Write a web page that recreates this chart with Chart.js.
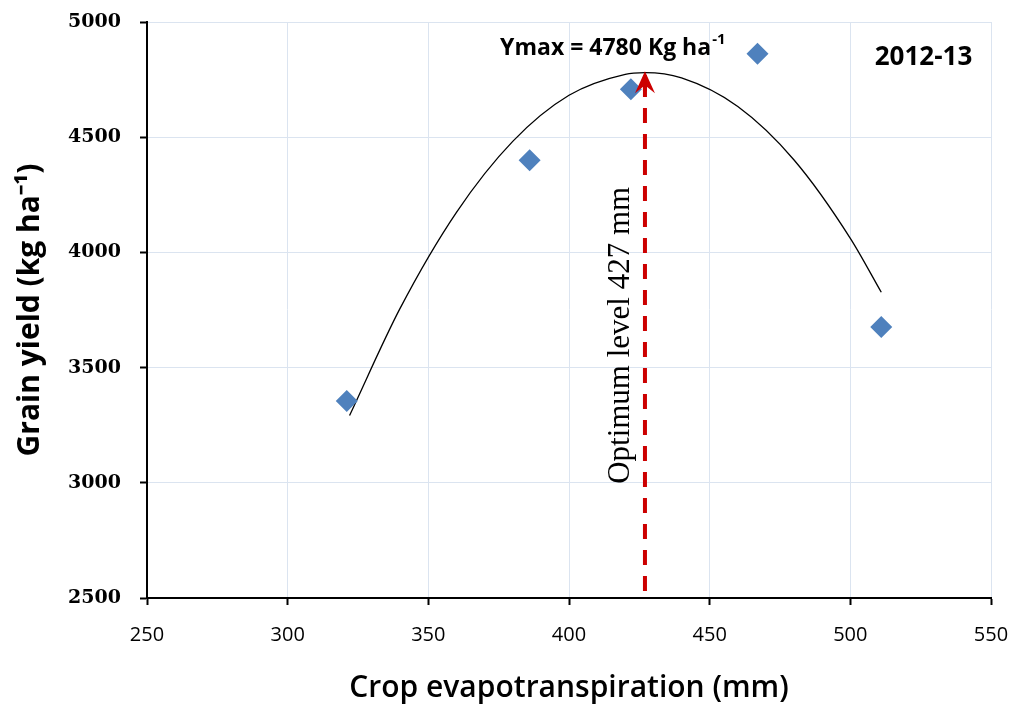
<!DOCTYPE html>
<html>
<head>
<meta charset="utf-8">
<script src="https://cdn.jsdelivr.net/npm/chart.js@4.4.1/dist/chart.umd.min.js"></script>
<style>
  html, body { margin: 0; padding: 0; background: #fff; }
  #wrap { width: 1021px; height: 706px; position: relative; }
</style>
</head>
<body>
<div id="wrap"><canvas id="chart"></canvas></div>
<script>
// observed points (crop ET mm, grain yield kg/ha)
const etValues = [321, 386, 422, 467, 511];
const yieldValues = [3355, 4400, 4708, 4862, 3676];

// fitted quadratic trend
const trendEt = [322, 340, 360, 380, 400, 420, 427, 440, 460, 480, 500, 511];
const trendYield = [3292, 3758, 4174, 4482, 4682, 4773, 4780, 4757, 4633, 4401, 4061, 3827];

// optimum arrow
const optimumEt = [427, 427];
const optimumYield = [2530, 4760];

const xTicks = [250, 300, 350, 400, 450, 500, 550];
const yTicks = [2500, 3000, 3500, 4000, 4500, 5000];

const GRID = '#dbe4f0';
const BLUE = '#4f81bd';
const RED = '#cc0000';

const annotations = {
  id: 'annotations',
  afterDatasetsDraw(chart) {
    const { ctx, scales: { x, y } } = chart;
    ctx.save();

    // arrowhead on top of the dashed line
    const meta = chart.getDatasetMeta(2);
    const tip = meta.data[meta.data.length - 1];
    ctx.strokeStyle = RED;
    ctx.fillStyle = RED;
    ctx.lineWidth = 4;
    ctx.setLineDash([]);
    ctx.beginPath();
    ctx.moveTo(tip.x, tip.y + 14);
    ctx.lineTo(tip.x, tip.y - 2);
    ctx.stroke();
    ctx.beginPath();
    ctx.moveTo(tip.x, tip.y - 6);
    ctx.lineTo(tip.x + 10, tip.y + 16);
    ctx.lineTo(tip.x, tip.y + 8);
    ctx.lineTo(tip.x - 10, tip.y + 16);
    ctx.closePath();
    ctx.fill();

    ctx.fillStyle = '#000';
    ctx.textBaseline = 'middle';

    // Ymax label
    ctx.font = 'bold 23px "Open Sans", "Liberation Sans", sans-serif';
    ctx.textAlign = 'left';
    const ymaxX = x.getPixelForValue(375.5);
    const ymaxY = y.getPixelForValue(4885);
    const main = 'Ymax = 4780 Kg ha';
    const w = ctx.measureText(main).width;
    ctx.fillText(main, ymaxX, ymaxY);
    ctx.font = 'bold 15px "Open Sans", "Liberation Sans", sans-serif';
    ctx.fillText('-1', ymaxX + w + 1, ymaxY - 9);

    ctx.font = 'bold 26px "Open Sans", "Liberation Sans", sans-serif';
    ctx.textAlign = 'center';
    ctx.fillText('2012-13', x.getPixelForValue(526), y.getPixelForValue(4845));

    ctx.font = '31px "Liberation Serif", "DejaVu Serif", serif';
    ctx.translate(x.getPixelForValue(418.5), y.getPixelForValue(3640));
    ctx.rotate(-Math.PI / 2);
    ctx.fillText('Optimum level 427 mm', 0, 0);

    ctx.restore();
  }
};

new Chart(document.getElementById('chart'), {
  type: 'scatter',
  data: {
    datasets: [
      {
        label: 'Observed',
        data: etValues.map((v, i) => ({ x: v, y: yieldValues[i] })),
        pointStyle: 'rectRot',
        pointRadius: 11,
        pointHoverRadius: 11,
        backgroundColor: BLUE,
        borderColor: BLUE,
        borderWidth: 0,
        order: 1
      },
      {
        label: 'Trend',
        data: trendEt.map((v, i) => ({ x: v, y: trendYield[i] })),
        showLine: true,
        pointRadius: 0,
        borderColor: '#000',
        borderWidth: 1.3,
        cubicInterpolationMode: 'monotone',
        fill: false,
        order: 2
      },
      {
        label: 'Optimum',
        data: optimumEt.map((v, i) => ({ x: v, y: optimumYield[i] })),
        showLine: true,
        pointRadius: 0,
        borderColor: RED,
        borderWidth: 4,
        borderDash: [15, 11],
        fill: false,
        order: 0
      }
    ]
  },
  options: {
    responsive: true,
    maintainAspectRatio: false,
    animation: false,
    layout: { padding: { top: 22, right: 30, left: 8, bottom: 0 } },
    plugins: { legend: { display: false }, tooltip: { enabled: false } },
    scales: {
      x: {
        type: 'linear',
        min: 250,
        max: 550,
        afterBuildTicks: s => { s.ticks = xTicks.map(v => ({ value: v })); },
        afterFit: s => { s.height = 108; s.paddingLeft = 0; s.paddingRight = 0; },
        grid: { color: GRID, lineWidth: 1, tickLength: 7, tickColor: '#000', tickWidth: 2 },
        border: { color: '#000', width: 2 },
        ticks: {
          color: '#000',
          padding: 18,
          font: { family: '"Liberation Sans Narrow", "Open Sans", sans-serif', size: 20 }
        },
        title: {
          display: true,
          text: 'Crop evapotranspiration (mm)',
          color: '#000',
          padding: { top: 0, bottom: 0 },
          font: { family: '"Open Sans", "Liberation Sans", sans-serif', size: 30, weight: '600' }
        }
      },
      y: {
        type: 'linear',
        min: 2500,
        max: 5000,
        afterBuildTicks: s => { s.ticks = yTicks.map(v => ({ value: v })); },
        afterFit: s => { s.width = 139; s.paddingTop = 0; s.paddingBottom = 0; },
        grid: { color: GRID, lineWidth: 1, tickLength: 7, tickColor: '#000', tickWidth: 2 },
        border: { color: '#000', width: 2 },
        ticks: {
          color: '#000',
          padding: 19,
          callback: v => String(v),
          font: { family: '"DejaVu Serif", "Liberation Serif", serif', size: 19, weight: 'bold' }
        },
        title: {
          display: true,
          text: 'Grain yield (kg ha⁻¹)',
          color: '#000',
          padding: { bottom: 0 },
          font: { family: '"Open Sans", "Liberation Sans", sans-serif', size: 30, weight: 'bold' }
        }
      }
    }
  },
  plugins: [annotations]
});
</script>
</body>
</html>
